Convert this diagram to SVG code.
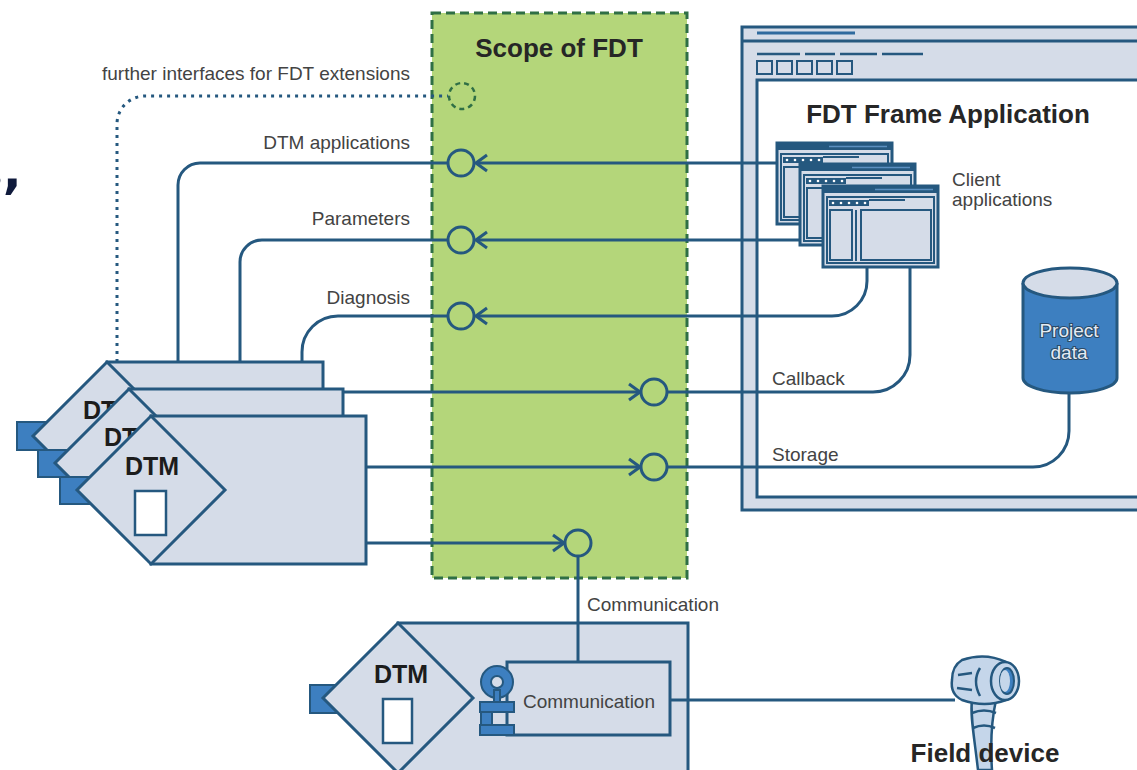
<svg xmlns="http://www.w3.org/2000/svg" width="1137" height="770" viewBox="0 0 1137 770">
  <style>
    .ln { fill: none; stroke: #25587f; stroke-width: 3; }
    .dot { fill: none; stroke: #25587f; stroke-width: 3; stroke-dasharray: 3 5; }
    .lbl { font-family: "Liberation Sans", Arial, sans-serif; font-size: 19px; fill: #434343; }
    .ttl { font-family: "Liberation Sans", Arial, sans-serif; font-size: 26px; font-weight: bold; fill: #262626; }
    .dtm { font-family: "Liberation Sans", Arial, sans-serif; font-size: 25px; font-weight: bold; fill: #1c1c1c; text-anchor: middle; }
    .pale { fill: #d5dce8; stroke: #25587f; stroke-width: 3; }
    .pale2 { fill: #d5dce8; stroke: #25587f; stroke-width: 2; }
    .blue { fill: #3d7fc0; stroke: #25587f; stroke-width: 2; }
    .port { fill: #b4d67a; stroke: #25587f; stroke-width: 3; }
  </style>
  <defs>
    <marker id="chev" markerUnits="userSpaceOnUse" viewBox="-13 -10 15 20" markerWidth="15" markerHeight="20" refX="0" refY="0" orient="auto">
      <path d="M-11,-8 L0,0 L-11,8" fill="none" stroke="#25587f" stroke-width="3"/>
    </marker>
    <!-- small application window used for the client applications -->
    <g id="appwin">
      <rect x="0" y="0" width="115" height="81" class="pale"/>
      <rect x="0" y="0" width="115" height="7" fill="#25587f"/>
      <line x1="52" y1="3.5" x2="110" y2="3.5" stroke="#5b8fc0" stroke-width="1.5"/>
      <rect x="4" y="11" width="107" height="66" class="pale2"/>
      <rect x="6" y="14" width="40" height="6" fill="#25587f"/>
      <g fill="#ffffff">
        <circle cx="10" cy="17" r="1.3"/><circle cx="18" cy="17" r="1.3"/><circle cx="26" cy="17" r="1.3"/><circle cx="34" cy="17" r="1.3"/><circle cx="42" cy="17" r="1.3"/>
      </g>
      <line x1="46" y1="14" x2="82" y2="14" stroke="#25587f" stroke-width="2"/>
      <rect x="7" y="24" width="22" height="50" class="pale2"/>
      <line x1="33" y1="24" x2="33" y2="75" stroke="#25587f" stroke-width="2"/>
      <rect x="38" y="24" width="70" height="50" class="pale2"/>
    </g>
  </defs>

  <rect width="1137" height="770" fill="#ffffff"/>

  <!-- clipped heading fragment at the left edge -->
  <text x="-27" y="188" font-family="'DejaVu Sans', sans-serif" font-size="50" font-weight="bold" fill="#0f1a3c">s,</text>

  <!-- Scope of FDT -->
  <g id="scope">
    <rect x="432" y="13" width="255" height="565" fill="#b4d67a" stroke="#2f6f45" stroke-width="3" stroke-dasharray="9 5"/>
    <text x="559" y="57" class="ttl" text-anchor="middle" fill="#1e2a1e">Scope of FDT</text>
  </g>

  <!-- FDT Frame Application window -->
  <g id="frame-app">
    <rect x="742" y="27" width="420" height="483" class="pale"/>
    <line x1="742" y1="41" x2="1140" y2="41" stroke="#25587f" stroke-width="3"/>
    <line x1="757" y1="33" x2="855" y2="33" stroke="#2f6a9e" stroke-width="3"/>
    <g stroke="#25587f" stroke-width="2.5">
      <line x1="757" y1="54" x2="800" y2="54"/>
      <line x1="805" y1="54" x2="835" y2="54"/>
      <line x1="840" y1="54" x2="877" y2="54"/>
      <line x1="882" y1="54" x2="923" y2="54"/>
    </g>
    <g class="pale2" stroke-width="2.5">
      <rect x="757" y="61" width="15" height="13"/>
      <rect x="777" y="61" width="15" height="13"/>
      <rect x="797" y="61" width="15" height="13"/>
      <rect x="817" y="61" width="15" height="13"/>
      <rect x="837" y="61" width="15" height="13"/>
    </g>
    <rect x="757" y="80" width="400" height="417" fill="#ffffff" stroke="#25587f" stroke-width="3"/>
    <text x="948" y="123" class="ttl" text-anchor="middle">FDT Frame Application</text>
  </g>

  <!-- Client applications -->
  <g id="client-apps">
    <use href="#appwin" x="777" y="143"/>
    <use href="#appwin" x="800" y="164"/>
    <use href="#appwin" x="823" y="186"/>
    <text class="lbl"><tspan x="952" y="186">Client</tspan><tspan x="952" y="206">applications</tspan></text>
  </g>

  <!-- Project data -->
  <g id="project-data">
    <path d="M1023,283 V378 A47,15 0 0 0 1117,378 V283" fill="#3d7fc0" stroke="#25587f" stroke-width="3"/>
    <ellipse cx="1070" cy="283" rx="47" ry="15" class="pale"/>
    <g font-family="'Liberation Sans', Arial, sans-serif" font-size="19" fill="#e4ebf4" stroke="#2a4a66" stroke-width="2.2" paint-order="stroke" text-anchor="middle">
      <text x="1069" y="337">Project</text>
      <text x="1069" y="359">data</text>
    </g>
  </g>

  <!-- DTM stack -->
  <g id="dtm-back">
    <rect x="17" y="422" width="40" height="28" class="blue"/>
    <rect x="107" y="362" width="216" height="148" class="pale"/>
    <path d="M107,362 L181,436 L107,510 L33,436 Z" class="pale"/>
    <text x="110" y="419" class="dtm">DTM</text>
  </g>
  <g id="dtm-middle">
    <rect x="38" y="450" width="40" height="27" class="blue"/>
    <rect x="129" y="389" width="214" height="148" class="pale"/>
    <path d="M129,389 L203,463 L129,537 L55,463 Z" class="pale"/>
    <text x="131" y="446" class="dtm">DTM</text>
  </g>
  <g id="dtm-front">
    <rect x="60" y="477" width="40" height="27" class="blue"/>
    <rect x="151" y="416" width="215" height="148" class="pale"/>
    <path d="M151,416 L225,490 L151,564 L77,490 Z" class="pale"/>
    <text x="152" y="475" class="dtm">DTM</text>
    <rect x="135" y="491" width="31" height="44" fill="#ffffff" stroke="#25587f" stroke-width="2.5"/>
  </g>

  <!-- Communication DTM -->
  <g id="comm-dtm">
    <rect x="310" y="685" width="36" height="28" class="blue"/>
    <rect x="398" y="623" width="290" height="150" class="pale"/>
    <path d="M398,623 L473,698 L398,773 L323,698 Z" class="pale"/>
    <text x="401" y="683" class="dtm">DTM</text>
    <rect x="383" y="699" width="29" height="44" fill="#ffffff" stroke="#25587f" stroke-width="2.5"/>
    <rect x="507" y="662" width="163" height="73" class="pale"/>
    <text x="523" y="708" class="lbl">Communication</text>
    <!-- socket symbol -->
    <path d="M497,666 A16,16 0 1 0 497,698 A16,16 0 1 0 497,666 Z M497,676 A6,6 0 1 1 497,688 A6,6 0 1 1 497,676 Z" fill="#3d7fc0" fill-rule="evenodd" stroke="#25587f" stroke-width="2"/>
    <rect x="494" y="690" width="6" height="14" class="blue"/>
    <rect x="480" y="702" width="34" height="10" class="blue"/>
    <rect x="481" y="712" width="11" height="13" class="blue"/>
    <rect x="480" y="725" width="34" height="10" class="blue"/>
  </g>

  <!-- Field device -->
  <g id="field-device">
    <path d="M972,700 C970,715 974,735 978,770 L992,770 C990,740 992,718 996,700 Z" fill="#c5d6ea" stroke="#25587f" stroke-width="2.5"/>
    <path d="M972,713 Q984,708 996,713 M973,728 Q984,723 995,728" fill="none" stroke="#25587f" stroke-width="2.5"/>
    <path d="M962,660 Q985,652 1006,662 L1006,700 Q985,708 962,700 Q950,694 952,680 Q952,666 962,660 Z" fill="#c5d6ea" stroke="#25587f" stroke-width="2.5"/>
    <path d="M958,675 L972,673 M957,688 L972,690 M980,668 Q972,681 980,696" fill="none" stroke="#25587f" stroke-width="2.5"/>
    <ellipse cx="1005" cy="681" rx="14" ry="19" fill="#c5d6ea" stroke="#25587f" stroke-width="2.5"/>
    <ellipse cx="1007" cy="681" rx="7" ry="13" fill="#3d7fc0" stroke="#25587f" stroke-width="2"/>
    <ellipse cx="1005" cy="681" rx="5" ry="11" fill="#c5d6ea"/>
    <text x="985" y="762" class="ttl" text-anchor="middle">Field device</text>
  </g>

  <!-- Connectors and interface ports -->
  <g id="connectors">
    <path class="dot" d="M117,362 V124 A28,28 0 0 1 145,96 H448"/>
    <path class="ln" d="M178,362 V185 A22,22 0 0 1 200,163 H447"/>
    <path class="ln" d="M240,362 V262 A22,22 0 0 1 262,240 H448"/>
    <path class="ln" d="M302,362 V352 A36,36 0 0 1 338,316 H448"/>
    <path class="ln" d="M777,163 H476" marker-end="url(#chev)"/>
    <path class="ln" d="M800,240 H476" marker-end="url(#chev)"/>
    <path class="ln" d="M867,267 V281 A35,35 0 0 1 832,316 H476" marker-end="url(#chev)"/>
    <path class="ln" d="M343,392 H640" marker-end="url(#chev)"/>
    <path class="ln" d="M667,392 H873 A37,37 0 0 0 910,355 V267"/>
    <path class="ln" d="M366,467 H640" marker-end="url(#chev)"/>
    <path class="ln" d="M667,467 H1033 A36,36 0 0 0 1069,431 V393"/>
    <path class="ln" d="M366,543 H564" marker-end="url(#chev)"/>
    <path class="ln" d="M578,556 V662"/>
    <path class="ln" d="M670,700 H955"/>

    <circle cx="462" cy="96" r="13" fill="none" stroke="#2f6f45" stroke-width="2.5" stroke-dasharray="5 4"/>
    <circle cx="461" cy="163" r="13" class="port"/>
    <circle cx="461" cy="240" r="13" class="port"/>
    <circle cx="461" cy="316" r="13" class="port"/>
    <circle cx="654" cy="392" r="13" class="port"/>
    <circle cx="654" cy="467" r="13" class="port"/>
    <circle cx="578" cy="543" r="13" class="port"/>

    <g class="lbl" text-anchor="end">
      <text x="410" y="80">further interfaces for FDT extensions</text>
      <text x="410" y="149">DTM applications</text>
      <text x="410" y="225">Parameters</text>
      <text x="410" y="304">Diagnosis</text>
    </g>
    <text x="772" y="385" class="lbl">Callback</text>
    <text x="772" y="461" class="lbl">Storage</text>
    <text x="587" y="611" class="lbl">Communication</text>
  </g>
</svg>
